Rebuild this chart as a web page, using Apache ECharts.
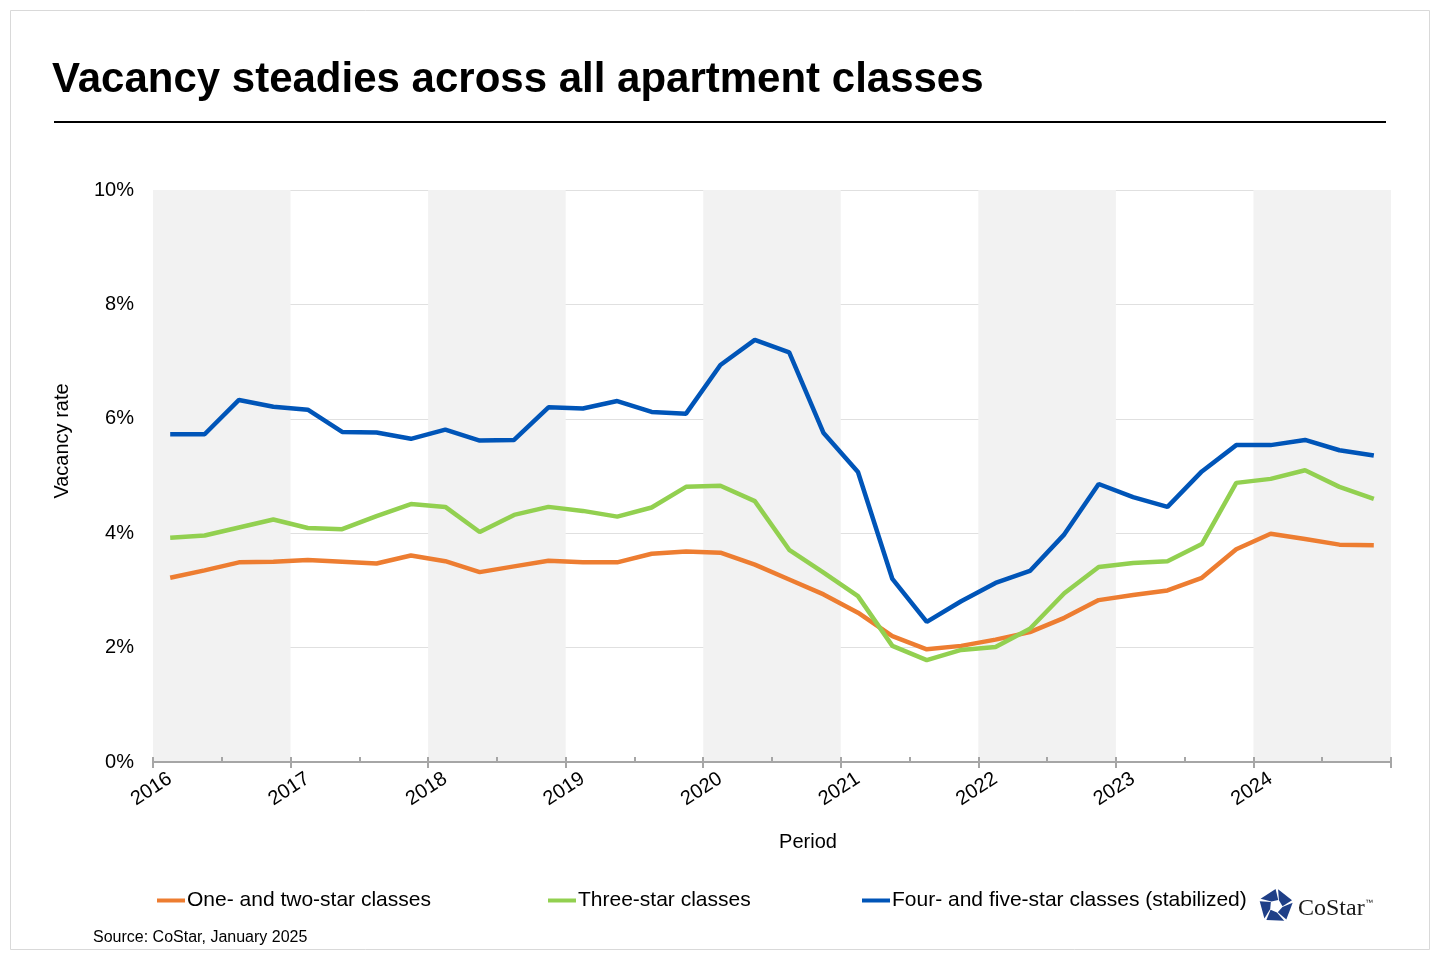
<!DOCTYPE html>
<html>
<head>
<meta charset="utf-8">
<script src="https://cdn.jsdelivr.net/npm/echarts@6/dist/echarts.min.js"></script>
<style>
html,body{margin:0;padding:0;background:#fff;}
#chart{width:1440px;height:960px;}
</style>
</head>
<body>
<div id="chart"></div>
<script>
const years = ['2016','2017','2018','2019','2020','2021','2022','2023','2024'];
const quarters = ['Q1','Q2','Q3','Q4'];
const categories = [];
years.forEach(y => quarters.forEach(q => categories.push(y + ' ' + q)));

const seriesNames = ['One- and two-star classes','Three-star classes','Four- and five-star classes (stabilized)'];
const oneTwoStar = [3.22,3.35,3.49,3.5, 3.53,3.5,3.47,3.61, 3.51,3.32,3.42,3.52, 3.49,3.49,3.64,3.68, 3.66,3.45,3.19,2.93, 2.61,2.2,1.97,2.03, 2.14,2.27,2.52,2.83, 2.92,3.0,3.22,3.72, 3.99,3.9,3.8,3.79];
const threeStar = [3.92,3.96,4.1,4.24, 4.09,4.07,4.3,4.51, 4.46,4.02,4.32,4.46, 4.39,4.29,4.45,4.81, 4.83,4.56,3.71,3.31, 2.9,2.03,1.78,1.96, 2.01,2.33,2.95,3.41, 3.48,3.51,3.81,4.88, 4.95,5.1,4.81,4.6];
const fourFiveStar = [5.73,5.73,6.33,6.21, 6.16,5.77,5.76,5.65, 5.81,5.62,5.63,6.2, 6.18,6.31,6.12,6.09, 6.94,7.38,7.16,5.75, 5.07,3.2,2.45,2.81, 3.13,3.34,3.98,4.86, 4.63,4.46,5.08,5.54, 5.54,5.63,5.45,5.36];
const colors = ['#ED7D31','#92D050','#0055B8'];

const FONT = 'Arial, "Liberation Sans", sans-serif';

// logo polygons
const logoPieces = [];
(function(){
  const cx = 1276, cy = 906, R = 17, r = 6.5;
  for (let k = 0; k < 5; k++) {
    const a0 = (-90 + 72*k) * Math.PI/180;
    const a1 = (-90 + 72*(k+1)) * Math.PI/180;
    const g = 7*Math.PI/180;
    const tw = 20*Math.PI/180;
    const pts = [
      [cx + R*Math.cos(a0+g), cy + R*Math.sin(a0+g)],
      [cx + R*Math.cos(a1-g*0.2), cy + R*Math.sin(a1-g*0.2)],
      [cx + r*Math.cos(a1+tw), cy + r*Math.sin(a1+tw)],
      [cx + r*Math.cos(a0+tw+g), cy + r*Math.sin(a0+tw+g)]
    ];
    logoPieces.push({type:'polygon', shape:{points:pts}, style:{fill:'#1F3F87'}, silent:true});
  }
})();

const legendText = {fontSize:21, color:'#000', fontFamily:FONT, padding:[0,0,0,-3]};

const chart = echarts.init(document.getElementById('chart'));
chart.setOption({
  backgroundColor:'#ffffff',
  animation:false,
  textStyle:{fontFamily:FONT},
  title:{
    text:'Vacancy steadies across all apartment classes',
    left:47, top:54,
    textStyle:{fontSize:42, fontWeight:'bold', color:'#000', fontFamily:FONT}
  },
  grid:{left:153, right:49, top:190, bottom:198, containLabel:false},
  legend:[
    {left:152, top:885, data:[seriesNames[0]], icon:'rect', itemWidth:28, itemHeight:4, textStyle:legendText},
    {left:543, top:885, data:[seriesNames[1]], icon:'rect', itemWidth:28, itemHeight:4, textStyle:legendText},
    {left:857, top:885, data:[seriesNames[2]], icon:'rect', itemWidth:28, itemHeight:4, textStyle:legendText}
  ],
  xAxis:[
    {
      type:'category', data:categories, boundaryGap:true, position:'bottom',
      axisLine:{show:true, lineStyle:{color:'#a6a6a6', width:2}},
      axisTick:{show:true, interval:3, inside:false, length:6, lineStyle:{color:'#a6a6a6', width:2}},
      axisLabel:{
        interval:3, rotate:33, margin:15, fontSize:20, color:'#000', fontFamily:FONT,
        formatter: v => v.split(' ')[0]
      },
      splitLine:{show:false},
      splitArea:{show:true, interval:3, areaStyle:{color:['#f2f2f2','rgba(255,255,255,0)']}}
    },
    {
      type:'category', data:categories, boundaryGap:true, position:'bottom',
      axisLine:{show:false},
      axisTick:{show:true, interval:1, inside:true, length:5, lineStyle:{color:'#a6a6a6', width:2}},
      axisLabel:{show:false},
      splitLine:{show:false}, splitArea:{show:false}
    }
  ],
  yAxis:{
    type:'value', min:0, max:10, interval:2,
    axisLine:{show:false}, axisTick:{show:false},
    axisLabel:{formatter:'{value}%', fontSize:20, color:'#000', margin:19, fontFamily:FONT},
    splitLine:{show:true, lineStyle:{color:'#e0e0e0', width:1}}
  },
  series:[
    {name:seriesNames[0], type:'line', data:oneTwoStar, xAxisIndex:0, showSymbol:false, symbol:'none',
     lineStyle:{color:colors[0], width:4.5}, itemStyle:{color:colors[0]}, z:3},
    {name:seriesNames[1], type:'line', data:threeStar, xAxisIndex:0, showSymbol:false, symbol:'none',
     lineStyle:{color:colors[1], width:4.5}, itemStyle:{color:colors[1]}, z:4},
    {name:seriesNames[2], type:'line', data:fourFiveStar, xAxisIndex:0, showSymbol:false, symbol:'none',
     lineStyle:{color:colors[2], width:4.5}, itemStyle:{color:colors[2]}, z:5}
  ],
  graphic:[
    {type:'rect', shape:{x:10.5, y:10.5, width:1419, height:939}, style:{fill:'none', stroke:'#d9d9d9', lineWidth:1}, silent:true, z:-10},
    {type:'line', shape:{x1:54, y1:122, x2:1386, y2:122}, style:{stroke:'#000', lineWidth:2}, silent:true},
    {type:'text', x:62, y:441, rotation:Math.PI/2, style:{text:'Vacancy rate', fill:'#000', font:'20px ' + FONT, textAlign:'center', textVerticalAlign:'middle'}, silent:true},
    {type:'text', x:808, y:842, style:{text:'Period', fill:'#000', font:'20px ' + FONT, textAlign:'center', textVerticalAlign:'middle'}, silent:true},
    {type:'text', x:93, y:938, style:{text:'Source: CoStar, January 2025', fill:'#000', font:'16px ' + FONT, textAlign:'left', textVerticalAlign:'middle'}, silent:true},
    {type:'group', children:logoPieces},
    {type:'text', x:1298, y:909, style:{text:'CoStar', fill:'#1a1a1a', font:'24px "Liberation Serif", "Times New Roman", serif', textAlign:'left', textVerticalAlign:'middle'}, silent:true},
    {type:'text', x:1365, y:903, style:{text:'™', fill:'#1a1a1a', font:'8px ' + FONT, textAlign:'left', textVerticalAlign:'middle'}, silent:true}
  ]
});
</script>
</body>
</html>
